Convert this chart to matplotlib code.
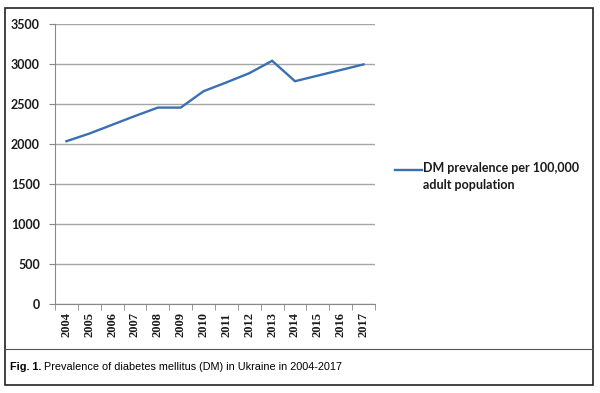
import matplotlib.pyplot as plt
import numpy as np
from matplotlib.patches import Rectangle
from matplotlib.lines import Line2D

years = ['2004', '2005', '2006', '2007', '2008', '2009', '2010',
         '2011', '2012', '2013', '2014', '2015', '2016', '2017']
prevalence = [2035, 2130, 2240, 2350, 2455, 2455, 2660,
              2770, 2885, 3040, 2785, 2855, 2925, 2995]
y_ticks = [0, 500, 1000, 1500, 2000, 2500, 3000, 3500]
legend_label = 'DM prevalence per 100,000\nadult population'
caption_bold = 'Fig. 1.'
caption_rest = ' Prevalence of diabetes mellitus (DM) in Ukraine in 2004-2017'

plt.rcParams['font.family'] = ['Liberation Sans', 'DejaVu Sans']

W, H = 600, 393
LINE_COLOR = '#3a6fb5'
fig = plt.figure(figsize=(6, 3.93), dpi=100)

# outer frame and caption divider
fig.patches.append(Rectangle((5 / W, 1 - 385 / H), 588 / W, 377 / H,
                             transform=fig.transFigure, fill=False,
                             edgecolor='#222222', linewidth=1.2))
fig.lines.append(Line2D([5 / W, 593 / W], [1 - 349 / H, 1 - 349 / H],
                        transform=fig.transFigure, color='#555555',
                        linewidth=0.8))

ax = fig.add_axes([55 / W, 1 - 304 / H, 320 / W, 280 / H])
x = np.arange(len(years))
ax.plot(x, prevalence, color=LINE_COLOR, linewidth=1.7, solid_joinstyle='miter')

ax.set_xlim(-0.5, len(years) - 0.5)
ax.set_ylim(0, 3500)
ax.set_yticks(y_ticks)
ax.set_yticklabels([str(v) for v in y_ticks], family=['Lato', 'DejaVu Sans'],
                   fontweight='bold', fontsize=9, color='#1a1a1a')
ax.set_xticks(x)
ax.set_xticklabels(years, rotation=90, family=['Liberation Serif', 'DejaVu Serif'],
                   fontweight='bold', fontsize=9, color='#1a1a1a')
ax.set_xticks(np.arange(-0.5, len(years)), minor=True)
ax.tick_params(axis='x', which='major', length=0, pad=6)
ax.tick_params(axis='x', which='minor', length=4, color='#888888')
ax.tick_params(axis='y', length=4, color='#888888', pad=7)

ax.grid(axis='y', color='#a6a6a6', linewidth=1)
ax.set_axisbelow(True)
for s in ['top', 'right']:
    ax.spines[s].set_visible(False)
for s in ['left', 'bottom']:
    ax.spines[s].set_color('#888888')

# legend, Excel style: key line level with the first text line
fig.lines.append(Line2D([395 / W, 422 / W], [1 - 170 / H, 1 - 170 / H],
                        transform=fig.transFigure, color=LINE_COLOR,
                        linewidth=1.7))
fig.text(423 / W, 1 - 162 / H, legend_label, family=['Lato', 'DejaVu Sans'],
         fontweight='bold', fontsize=9, color='#1a1a1a', va='top',
         linespacing=1.5, transform=fig.transFigure)

cap = fig.text(10 / W, 1 - 367 / H, caption_bold, fontsize=7.8, fontweight='bold',
               va='center')
ax.annotate(caption_rest, xy=(1, 0.5), xycoords=cap, fontsize=7.8, va='center',
            ha='left', annotation_clip=False)

fig.savefig('out.png', dpi=100)
